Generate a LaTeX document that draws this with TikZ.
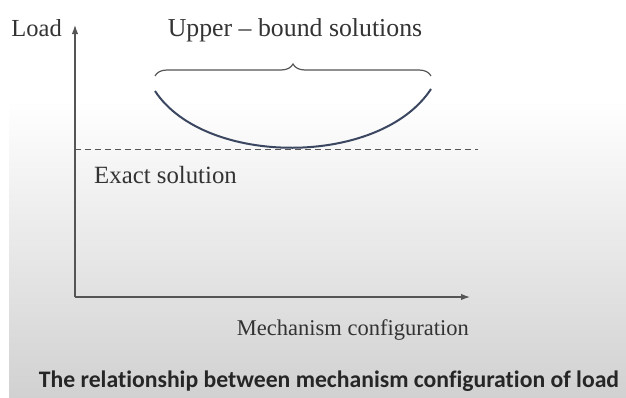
\documentclass[tikz,border=0pt]{standalone}
\usepackage{fontspec}
\setmainfont{Liberation Serif}
\newfontfamily\capfont[Ligatures=NoCommon]{Carlito}
\usetikzlibrary{positioning}
\usetikzlibrary{arrows.meta}
\usetikzlibrary{decorations.pathreplacing}
\usepackage{xcolor}
\definecolor{axisgray}{HTML}{555555}
\definecolor{txtgray}{HTML}{333333}
\definecolor{curveblue}{HTML}{3B4660}

\begin{document}
\begin{tikzpicture}[x=1pt, y=-1pt,
    axis/.style={draw=axisgray, line width=1.3pt, -{Latex[length=9pt,width=6.5pt]}},
    lbl/.style={text=txtgray, inner sep=0pt, font=\fontsize{24}{26}\selectfont}]
            % background
            \useasboundingbox (0,0) rectangle (626,397);
            \fill[white] (0,0) rectangle (626,397);
            \shade[top color=white, bottom color=black!18] (9,100) rectangle (626,397);

            \coordinate (origin) at (75,297);
            \coordinate (ytip) at (75,25);
            \coordinate (xtip) at (470,297);
            \coordinate (dashL) at (75,149);
            \coordinate (dashR) at (478,149);
            \coordinate (braceL) at (155,76);
            \coordinate (braceR) at (431,76);
            \coordinate (curveL) at (155,91);
            \coordinate (curveR) at (431,89);

            \node[lbl, anchor=east, font=\fontsize{24.5}{26}\selectfont] (load) at (62,28) {Load};
            \node[lbl, font=\fontsize{25.8}{27}\selectfont] (upper) at (295,30) {Upper -- bound solutions};
            \node[lbl, anchor=west, font=\fontsize{24.8}{26}\selectfont] (exact) at (94,175) {Exact solution};
            \node[lbl, anchor=east, font=\fontsize{22.5}{24}\selectfont] (mech) at (469,330) {Mechanism configuration};
            \node[text=black!85, inner sep=0pt, font=\capfont\bfseries\fontsize{23.7}{25}\selectfont] (caption) at (329,381) {The relationship between mechanism configuration of load};

            \draw[axis] (origin) -- (ytip);
            \draw[axis] (origin) -- (xtip);
            \draw[axisgray, line width=1pt, dash pattern=on 6pt off 4pt] (dashL) -- (dashR);
            \draw[axisgray, line width=1.2pt, decorate, decoration={brace, amplitude=12pt}] (braceL) -- (braceR);
            \draw[curveblue, line width=2pt] (curveL) .. controls (205,167) and (380,167) .. (curveR);
        \end{tikzpicture}
\end{document}
